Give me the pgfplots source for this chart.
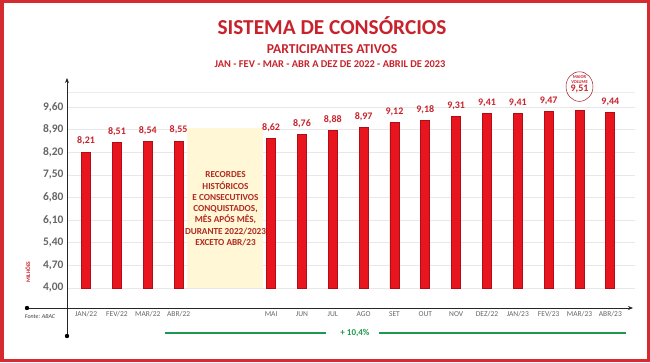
\documentclass[border=0pt]{standalone}
\usepackage{pgfplots}
\pgfplotsset{compat=1.18}
\usepackage{fontspec}
\setmainfont{Carlito}
\usetikzlibrary{arrows.meta}
\definecolor{bord}{HTML}{D52A30}
\definecolor{barred}{HTML}{E8141E}
\definecolor{bardark}{HTML}{B00E16}
\definecolor{lab}{HTML}{C8232C}
\definecolor{boxy}{HTML}{FFF7D6}
\definecolor{boxtxt}{HTML}{B02A22}
\definecolor{grn}{HTML}{1E9850}
\definecolor{tickc}{HTML}{666666}
\pgfplotstableread{
x v
0 8.21
1 8.51
2 8.54
3 8.55
6 8.62
7 8.76
8 8.88
9 8.97
10 9.12
11 9.18
12 9.31
13 9.41
14 9.41
15 9.47
16 9.51
17 9.44
}\datatab
\begin{document}
\begin{tikzpicture}
\begin{scope}[x=1pt,y=1pt]
\path[use as bounding box] (0,0) rectangle (650,362);
\fill[white] (0,0) rectangle (650,362);
\draw[bord, line width=3.5pt] (1.75,1.75) rectangle (648.25,360.25);
\node[font=\bfseries\fontsize{21.3}{21}\selectfont, text=lab] at (332,336) {SISTEMA DE CONSÓRCIOS};
\node[font=\bfseries\fontsize{13.6}{13}\selectfont, text=lab] at (332,313) {PARTICIPANTES ATIVOS};
\node[font=\bfseries\fontsize{10.4}{10}\selectfont, text=lab] at (330,298) {JAN - FEV - MAR - ABR A DEZ DE 2022 - ABRIL DE 2023};
\end{scope}
\begin{axis}[
  at={(67pt,74pt)}, anchor=south west, scale only axis,
  width=568pt, height=197pt,
  xmin=-0.62, xmax=17.8, ymin=4, ymax=10.1,
  axis line style={draw=none}, tick style={draw=none},
  ytick={4,4.7,5.4,6.1,6.8,7.5,8.2,8.9,9.6},
  extra y ticks={10.05}, extra y tick labels={},
  extra y tick style={grid style={gray!15, line width=0.6pt}},
  ymajorgrids, grid style={gray!18, line width=0.6pt},
  /pgf/number format/.cd, use comma, fixed, fixed zerofill, precision=2, assume math mode=true,
  /pgfplots/.cd,
  yticklabel style={font=\bfseries\fontsize{11.5}{11.5}\selectfont, text=tickc},
  xtick={0,1,2,3,6,7,8,9,10,11,12,13,14,15,16,17},
  xticklabels={JAN/22,FEV/22,MAR/22,ABR/22,MAI,JUN,JUL,AGO,SET,OUT,NOV,DEZ/22,JAN/23,FEV/23,MAR/23,ABR/23},
  xticklabel style={font=\fontsize{7.5}{7.5}\selectfont, text=tickc, yshift=-20pt},
  clip mode=individual,
]
\fill[boxy] (axis cs:3.28,4) rectangle (axis cs:5.75,8.95);
\addplot[ybar, bar width=9pt, fill=barred, draw=bardark, line width=0.8pt,
  nodes near coords, every node near coord/.append style={font=\bfseries\fontsize{10}{10}\selectfont, text=lab, anchor=south, yshift=3pt},
  coordinate style/.condition={\coordindex==14}{yshift=10pt}]
  table[x=x, y=v] {\datatab};
\node[align=center, font=\bfseries\fontsize{9.2}{11.3}\selectfont, text=boxtxt] at (axis cs:4.52,6.45)
 {RECORDES\\HISTÓRICOS\\E CONSECUTIVOS\\CONQUISTADOS,\\MÊS APÓS MÊS,\\DURANTE 2022/2023\\EXCETO ABR/23};
\coordinate (mx) at (axis cs:16,9.51);
\end{axis}
\begin{scope}[x=1pt,y=1pt]
\draw[lab!80!black, line width=0.5pt] ([yshift=23.5pt]mx) ellipse (13.5pt and 14.8pt);
\node[font=\bfseries\fontsize{4.5}{5}\selectfont, text=lab, align=center] at ([yshift=31pt]mx) {MAIOR\\VOLUME};
\draw[black!85, line width=0.8pt, -{Stealth[length=5pt,width=4pt]}] (27,54) -- (633,54);
\fill[black] (27,54) circle (2.2pt);
\draw[black!85, line width=0.8pt, -{Stealth[length=5pt,width=4pt]}] (67,26) -- (67,284);
\fill[black] (67,26) circle (2.2pt);
\node[font=\itshape\fontsize{6}{6}\selectfont, text=black!75] at (40,45) {Fonte: ABAC};
\node[rotate=90, font=\bfseries\fontsize{5.5}{6}\selectfont, text=lab] at (28,90) {MILHÕES};
\draw[grn, line width=2.6pt] (165,29) -- (218,29);
\draw[grn, line width=1.2pt] (218,29) -- (326,29);
\node[font=\bfseries\fontsize{9}{9}\selectfont, text=grn] at (355,29) {+ 10,4\%};
\draw[grn, line width=1.2pt] (379,29) -- (572,29);
\draw[grn, line width=2.6pt] (572,29) -- (626,29);
\end{scope}
\end{tikzpicture}
\end{document}
